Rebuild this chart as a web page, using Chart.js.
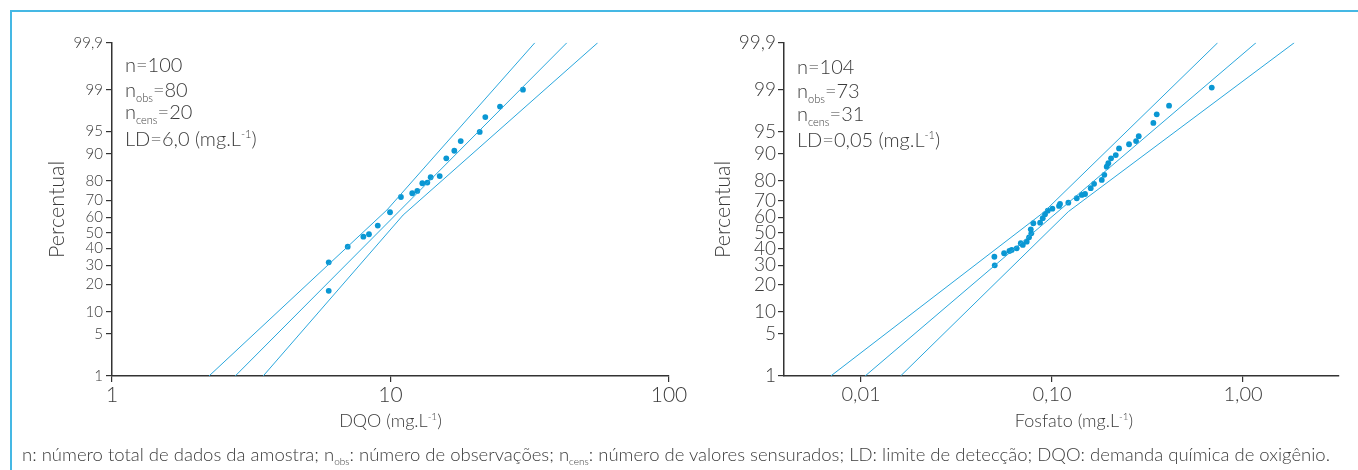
<!DOCTYPE html>
<html>
<head>
<meta charset="utf-8">
<script src="https://cdn.jsdelivr.net/npm/chart.js@4.4.1/dist/chart.umd.min.js"></script>
<style>
  body { margin: 0; width: 1358px; height: 470px; overflow: hidden; background: #fff; position: relative;
         font-family: Lato, "Noto Sans", sans-serif; font-weight: 300; color: #3b3b3b; }
  #frame { position: absolute; left: 10px; top: 10px; width: 1400px; height: 500px; border: 2px solid #45b8e4; }
  canvas { position: absolute; left: 0; top: 0; }
  .note { position: absolute; font-size: 20px; line-height: 1; white-space: nowrap; }
  .sub { font-size: 11px; vertical-align: -5px; }
  .sup { font-size: 11px; vertical-align: 8px; }
  .xtitle { position: absolute; top: 411px; font-size: 18px; line-height: 1; white-space: nowrap; transform: translateX(-50%); }
  .xtitle .sup { font-size: 10px; vertical-align: 7px; }
  #caption { position: absolute; left: 22px; top: 445px; font-size: 18.5px; line-height: 1; white-space: nowrap; }
  #caption .sub { font-size: 10px; vertical-align: -4px; }
</style>
</head>
<body>
<div id="frame"></div>
<canvas id="dqo" width="1358" height="470"></canvas>
<canvas id="fosfato" width="1358" height="470"></canvas>

<div class="note" style="left:125px;top:54px">n=100</div>
<div class="note" style="left:125px;top:78.5px">n<span class="sub">obs</span>=80</div>
<div class="note" style="left:125px;top:100.5px">n<span class="sub">cens</span>=20</div>
<div class="note" style="left:125px;top:127.5px">LD=6,0 (mg.L<span class="sup">-1</span>)</div>

<div class="note" style="left:797px;top:55.5px">n=104</div>
<div class="note" style="left:797px;top:79.5px">n<span class="sub">obs</span>=73</div>
<div class="note" style="left:797px;top:102.5px">n<span class="sub">cens</span>=31</div>
<div class="note" style="left:797px;top:128.5px">LD=0,05 (mg.L<span class="sup">-1</span>)</div>

<div class="xtitle" style="left:390.5px">DQO (mg.L<span class="sup">-1</span>)</div>
<div class="xtitle" style="left:1074px">Fosfato (mg.L<span class="sup">-1</span>)</div>

<div id="caption">n: número total de dados da amostra; n<span class="sub">obs</span>: número de observações; n<span class="sub">cens</span>: número de valores sensurados; LD: limite de detecção; DQO: demanda química de oxigênio.</div>

<script>
// eixo de probabilidade (percentual)
const percentTicks = [1, 5, 10, 20, 30, 40, 50, 60, 70, 80, 90, 95, 99, 99.9];
const percentLabels = ['1', '5', '10', '20', '30', '40', '50', '60', '70', '80', '90', '95', '99', '99,9'];

// DQO
const dqoTicks = [1, 10, 100];
const dqoTickLabels = ['1', '10', '100'];
const dqoValues = [6.0, 6.0, 7.02, 7.99, 8.37, 9.0, 9.96, 10.9, 11.97, 12.48, 13.01,
                   13.56, 13.94, 15.02, 15.86, 16.95, 17.87, 20.91, 21.9, 24.73, 29.9];
const dqoPercent = [31.6, 17.3, 41.1, 47.5, 49.1, 54.7, 63.1, 72.0, 74.0, 75.2, 79.0,
                    79.3, 81.7, 82.2, 88.7, 90.9, 93.2, 94.95, 97.0, 97.99, 99.0];
const dqoFitX = [2.77, 43.0];
const dqoFitPercent = [1, 99.9];
const dqoBandLeftX = [2.23, 9.71, 33.0];
const dqoBandLeftPercent = [1, 64.5, 99.9];
const dqoBandRightX = [3.49, 11.1, 55.5];
const dqoBandRightPercent = [1, 61.4, 99.9];

// Fosfato
const fosTicks = [0.01, 0.1, 1];
const fosTickLabels = ['0,01', '0,10', '1,00'];
const fosValues = [0.0499, 0.0501, 0.0561, 0.0598, 0.0615, 0.0653, 0.0686, 0.0703, 0.0737, 0.0758,
                   0.0779, 0.0774, 0.0798, 0.0866, 0.0894, 0.0919, 0.0950, 0.1004, 0.1088, 0.1101,
                   0.1217, 0.1347, 0.1430, 0.1489, 0.1594, 0.1660, 0.1821, 0.1878, 0.1933, 0.1971,
                   0.2037, 0.2156, 0.2243, 0.2530, 0.2754, 0.2844, 0.3392, 0.3533, 0.4099, 0.6858];
const fosPercent = [34.9, 29.9, 37.0, 38.4, 39.1, 40.1, 43.3, 42.2, 44.3, 47.1,
                    49.7, 52.3, 56.2, 56.6, 59.4, 61.9, 64.1, 65.3, 66.9, 68.1,
                    68.8, 71.3, 73.1, 73.6, 76.6, 78.7, 80.5, 82.7, 85.9, 87.1,
                    88.7, 89.7, 91.5, 92.5, 93.2, 94.2, 96.3, 97.3, 98.06, 99.09];
const fosFitX = [0.0105, 1.17];
const fosFitPercent = [1, 99.9];
const fosBandLeftX = [0.00694, 0.090, 0.737];
const fosBandLeftPercent = [1, 62.9, 99.9];
const fosBandRightX = [0.0161, 0.1217, 1.856];
const fosBandRightPercent = [1, 63.5, 99.9];

const textColor = '#3b3b3b';
const axisColor = '#333';
const lineColor = '#2aa7dd';
const dotColor = '#0a97d3';
const family = 'Lato, "Noto Sans", sans-serif';

// inversa da normal (Acklam)
function probit(p) {
  const a = [-39.69683028665376, 220.9460984245205, -275.9285104469687, 138.3577518672690, -30.66479806614716, 2.506628277459239];
  const b = [-54.47609879822406, 161.5858368580409, -155.6989798598866, 66.80131188771972, -13.28068155288572];
  const c = [-0.007784894002430293, -0.3223964580411365, -2.400758277161838, -2.549732539343734, 4.374664141464968, 2.938163982698783];
  const d = [0.007784695709041462, 0.3224671290700398, 2.445134137142996, 3.754408661907416];
  const pl = 0.02425;
  if (p < pl) {
    const q = Math.sqrt(-2 * Math.log(p));
    return (((((c[0]*q+c[1])*q+c[2])*q+c[3])*q+c[4])*q+c[5]) / ((((d[0]*q+d[1])*q+d[2])*q+d[3])*q+1);
  }
  if (p > 1 - pl) {
    const q = Math.sqrt(-2 * Math.log(1 - p));
    return -(((((c[0]*q+c[1])*q+c[2])*q+c[3])*q+c[4])*q+c[5]) / ((((d[0]*q+d[1])*q+d[2])*q+d[3])*q+1);
  }
  const q = p - 0.5, r = q * q;
  return (((((a[0]*r+a[1])*r+a[2])*r+a[3])*r+a[4])*r+a[5])*q / (((((b[0]*r+b[1])*r+b[2])*r+b[3])*r+b[4])*r+1);
}

// escala de probabilidade normal para o eixo y
const LinearScale = Chart.LinearScale || Chart.registry.getScale('linear');
class ProbitScale extends LinearScale {
  buildTicks() {
    return percentTicks.map(v => ({ value: v }));
  }
  configure() {
    super.configure();
    this._zLo = probit(this.min / 100);
    this._zHi = probit(this.max / 100);
  }
  getPixelForValue(value) {
    const z = probit(value / 100);
    return this.getPixelForDecimal((z - this._zLo) / (this._zHi - this._zLo));
  }
  getValueForPixel(pixel) {
    const z = this._zLo + this.getDecimalForPixel(pixel) * (this._zHi - this._zLo);
    let lo = 0.0001, hi = 0.9999;
    for (let i = 0; i < 40; i++) {
      const mid = (lo + hi) / 2;
      if (probit(mid) < z) lo = mid; else hi = mid;
    }
    return lo * 100;
  }
}
ProbitScale.id = 'probit';
ProbitScale.defaults = {};
Chart.register(ProbitScale);

const pts = (xs, ys) => xs.map((x, i) => ({ x: x, y: ys[i] }));

function line(data) {
  return { data: data, showLine: true, borderColor: lineColor, borderWidth: 1, pointRadius: 0, fill: false };
}

function probChart(id, o) {
  return new Chart(document.getElementById(id), {
    type: 'scatter',
    data: {
      datasets: [
        line(o.bandLeft),
        line(o.fit),
        line(o.bandRight),
        { data: o.points, pointRadius: 2.9, pointBackgroundColor: dotColor, pointBorderWidth: 0 }
      ]
    },
    options: {
      responsive: false,
      animation: false,
      events: [],
      layout: { padding: o.pad },
      plugins: { legend: { display: false }, tooltip: { enabled: false } },
      scales: {
        x: {
          type: 'logarithmic',
          min: o.xMin,
          max: o.xMax,
          afterBuildTicks: s => { s.ticks = o.xTicks.map(v => ({ value: v })); },
          afterFit: s => { s.height = 60; },
          ticks: {
            autoSkip: false, maxRotation: 0, padding: 1, color: textColor,
            font: { family: family, size: o.xFont, weight: 300 },
            callback: (v, i) => o.xLabels[i]
          },
          grid: { drawOnChartArea: false, drawTicks: true, tickLength: 6, color: axisColor, lineWidth: 1.2 },
          border: { display: true, color: axisColor, width: 1.5 },
          title: { display: false }
        },
        y: {
          type: 'probit',
          min: 1,
          max: 99.9,
          afterFit: s => { s.width = o.yWidth; },
          ticks: {
            autoSkip: false, padding: o.yPad, color: textColor,
            font: { family: family, size: o.yFont, weight: 300 },
            callback: (v, i) => percentLabels[i]
          },
          grid: { drawOnChartArea: false, drawTicks: true, tickLength: 6, color: axisColor, lineWidth: 1.2 },
          border: { display: true, color: axisColor, width: 1.5 },
          title: {
            display: true, text: 'Percentual', color: textColor,
            font: { family: family, size: 21.5, weight: 300 },
            padding: { top: o.yTitlePad, bottom: 0 }
          }
        }
      }
    }
  });
}

probChart('dqo', {
  points: pts(dqoValues, dqoPercent),
  fit: pts(dqoFitX, dqoFitPercent),
  bandLeft: pts(dqoBandLeftX, dqoBandLeftPercent),
  bandRight: pts(dqoBandRightX, dqoBandRightPercent),
  xMin: 1, xMax: 100, xTicks: dqoTicks, xLabels: dqoTickLabels,
  xFont: 21, yFont: 15, yPad: 3, yTitlePad: 4, yWidth: 72,
  pad: { left: 40, top: 42.7, right: 689, bottom: 34 }
});

probChart('fosfato', {
  points: pts(fosValues, fosPercent),
  fit: pts(fosFitX, fosFitPercent),
  bandLeft: pts(fosBandLeftX, fosBandLeftPercent),
  bandRight: pts(fosBandRightX, fosBandRightPercent),
  xMin: 0.00395, xMax: 3.18, xTicks: fosTicks, xLabels: fosTickLabels,
  xFont: 20, yFont: 19, yPad: 2, yTitlePad: 2, yWidth: 76,
  pad: { left: 708, top: 42.7, right: 19, bottom: 34 }
});

// legenda ocupa a largura do quadro
const caption = document.getElementById('caption');
const capWidth = caption.getBoundingClientRect().width;
caption.style.letterSpacing = ((1308 - capWidth) / caption.textContent.length) + 'px';
</script>
</body>
</html>
